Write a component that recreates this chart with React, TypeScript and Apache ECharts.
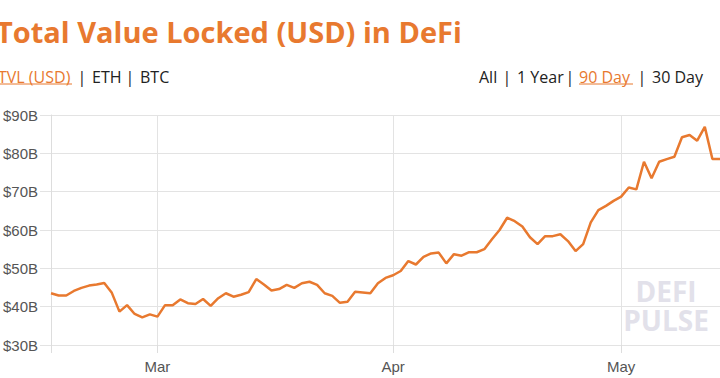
import React, { useEffect, useRef } from "react";
import * as echarts from "echarts";

// TVL in billions USD, daily, starting 2021-02-15
const startDate = "2021-02-15";
const tvlFeb = [43.5, 42.9, 42.9, 44.1, 44.9, 45.5, 45.8, 46.2, 43.6, 38.7, 40.4, 38.1, 37.2, 38.0];
const tvlMar = [
  37.4, 40.4, 40.4, 41.9, 40.9, 40.7, 42.0, 40.2, 42.2, 43.5, 42.6, 43.1, 43.8, 47.2, 45.8, 44.2,
  44.6, 45.7, 44.9, 46.1, 46.5, 45.7, 43.5, 42.8, 41.0, 41.3, 43.9, 43.7, 43.5, 46.1, 47.5,
];
const tvlApr = [
  48.2, 49.3, 51.9, 51.0, 53.0, 53.9, 54.1, 51.3, 53.7, 53.3, 54.2, 54.2, 55.0, 57.6, 60.0, 63.2,
  62.3, 60.9, 58.1, 56.3, 58.4, 58.4, 58.9, 57.1, 54.5, 56.3, 62.0, 65.2, 66.3, 67.6,
];
const tvlMay = [68.7, 71.1, 70.6, 77.8, 73.5, 77.8, 78.5, 79.1, 84.2, 84.8, 83.3, 86.9, 78.5, 78.5];
const tvl = [...tvlFeb, ...tvlMar, ...tvlApr, ...tvlMay];

const yMin = 30;
const yMax = 90;
const yStep = 10;
const monthNames = ["Jan", "Feb", "Mar", "Apr", "May", "Jun", "Jul", "Aug", "Sep", "Oct", "Nov", "Dec"];

const metricTabs = ["TVL (USD)", "ETH", "BTC"];
const rangeTabs = ["All", "1 Year", "90 Day", "30 Day"];

function buildDates(start: string, n: number): string[] {
  const out: string[] = [];
  const d0 = new Date(start + "T00:00:00Z").getTime();
  for (let i = 0; i < n; i++) {
    const d = new Date(d0 + i * 86400000);
    out.push(d.toISOString().slice(0, 10));
  }
  return out;
}

const dates = buildDates(startDate, tvl.length);
const isMonthStart = (_i: number, v: string) => v.endsWith("-01");

const ORANGE = "#E8792F";
const DARK = "#222222";
const SUBFONT = "'Open Sans', Lato, sans-serif";

export default function App() {
  const ref = useRef<HTMLDivElement>(null);
  useEffect(() => {
    if (!ref.current) return;
    const chart = echarts.init(ref.current, null, { renderer: "svg" });
    const subText = (text: string, x: number, color: string, align = "left") => ({
      type: "text",
      x,
      y: 77,
      style: {
        text,
        fill: color,
        font: `500 16px ${SUBFONT}`,
        textAlign: align,
        textVerticalAlign: "middle",
      },
    });
    const sep = (x: number) => subText("|", x, DARK, "center");
    chart.setOption({
      animation: false,
      backgroundColor: "#ffffff",
      grid: { left: 49, top: 115, width: 673, height: 230 },
      xAxis: {
        type: "category",
        data: dates,
        boundaryGap: false,
        axisLine: { show: false },
        axisTick: {
          show: true,
          length: 8,
          interval: (i: number, v: string) => i === 0 || isMonthStart(i, v),
          lineStyle: { color: "#dddddd" },
        },
        splitLine: {
          show: true,
          interval: isMonthStart,
          lineStyle: { color: "#e3e3e3" },
        },
        axisLabel: {
          interval: isMonthStart,
          formatter: (v: string) => monthNames[parseInt(v.slice(5, 7), 10) - 1],
          color: "#555555",
          fontSize: 15,
          fontFamily: "'Liberation Sans', Arial, sans-serif",
          margin: 14,
        },
      },
      yAxis: {
        type: "value",
        min: yMin,
        max: yMax,
        interval: yStep,
        axisLine: { show: true, lineStyle: { color: "#dddddd" } },
        axisTick: { show: true, length: 11, lineStyle: { color: "#e3e3e3" } },
        splitLine: { show: true, lineStyle: { color: "#e3e3e3" } },
        axisLabel: {
          formatter: (v: number) => `$${v}B`,
          color: "#555555",
          fontSize: 15,
          fontFamily: "'Liberation Sans', Arial, sans-serif",
          margin: 13,
        },
      },
      series: [
        {
          type: "line",
          data: tvl,
          showSymbol: false,
          symbol: "none",
          lineStyle: { color: ORANGE, width: 2.5 },
          z: 5,
        },
      ],
      graphic: [
        {
          type: "text",
          x: -4,
          y: 31,
          style: {
            text: "Total Value Locked (USD) in DeFi",
            fill: ORANGE,
            font: `bold 29px ${SUBFONT}`,
            textVerticalAlign: "middle",
          },
        },
        subText(metricTabs[0], -2, ORANGE),
        { type: "line", shape: { x1: -2, y1: 84, x2: 72, y2: 84 }, style: { stroke: ORANGE, lineWidth: 1 } },
        sep(82),
        subText(metricTabs[1], 92, DARK),
        sep(130),
        subText(metricTabs[2], 140, DARK),
        subText(rangeTabs[0], 479, DARK),
        sep(507),
        subText(rangeTabs[1], 517, DARK),
        sep(570),
        subText(rangeTabs[2], 579, ORANGE),
        { type: "line", shape: { x1: 579, y1: 84, x2: 633, y2: 84 }, style: { stroke: ORANGE, lineWidth: 1 } },
        sep(642),
        subText(rangeTabs[3], 652, DARK),
        {
          type: "text",
          x: 666,
          y: 305,
          z: 1,
          style: {
            text: "DEFI\nPULSE",
            fill: "#e2e1ea",
            font: `bold 28px ${SUBFONT}`,
            lineHeight: 29,
            textAlign: "center",
            textVerticalAlign: "middle",
            textShadowColor: "#c6c5d3",
            textShadowOffsetX: -2,
            textShadowOffsetY: 2,
            textShadowBlur: 0,
          },
        },
      ],
    });
    return () => chart.dispose();
  }, []);
  return (
    <div style={{ position: "fixed", left: 0, top: 0, width: 720, height: 378, overflow: "hidden", background: "#fff" }}>
      <div ref={ref} style={{ width: 720, height: 378 }} />
    </div>
  );
}
